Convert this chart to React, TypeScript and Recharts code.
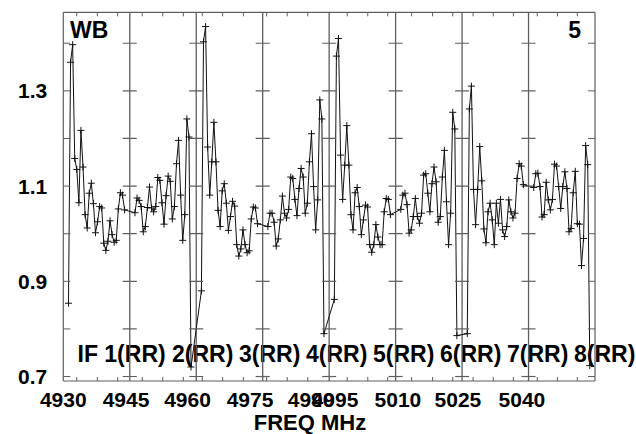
import { ComposedChart, Line, Scatter, XAxis, YAxis, ReferenceLine, Customized } from "recharts"

// channels kept per IF (edge channels are flagged)
const channels = [3, 4, 5, 6, 7, 8, 9, 10, 11, 12, 13, 14, 15, 16, 17, 18, 19, 20, 21, 22, 23, 24, 25, 26, 27, 28, 29, 30]

const if1 = [0.854, 1.36, 1.397, 1.158, 1.135, 1.065, 1.217, 1.14, 1.04, 1.012, 1.085, 1.106, 1.063, 1.002, 1.025, 1.057, 1.054, 0.98, 0.965, 0.984, 1.027, 0.998, 0.982, 0.986, 1.052, 1.086, 1.081, 1.05]
const if2 = [1.044, 1.075, 1.07, 1.057, 1.004, 1.015, 1.055, 1.098, 1.054, 1.046, 1.057, 1.118, 1.112, 1.065, 1.02, 1.08, 1.121, 1.11, 1.031, 1.057, 1.147, 1.196, 1.081, 0.986, 1.04, 1.241, 1.203, 0.72]
const if3 = [0.88, 1.403, 1.435, 1.182, 1.081, 1.151, 1.234, 1.151, 1.049, 1.015, 1.09, 1.105, 1.064, 1.007, 1.036, 1.068, 1.058, 0.977, 0.953, 0.968, 1.008, 0.977, 0.96, 0.964, 1.031, 1.056, 1.054, 1.021]
const if4 = [1.015, 1.043, 1.043, 1.024, 0.974, 0.989, 1.029, 1.079, 1.043, 1.033, 1.051, 1.119, 1.116, 1.072, 1.038, 1.095, 1.137, 1.119, 1.043, 1.064, 1.151, 1.21, 1.099, 1.008, 1.071, 1.281, 1.241, 0.79]
const if5 = [0.862, 1.373, 1.41, 1.165, 1.072, 1.144, 1.227, 1.144, 1.04, 1.008, 1.086, 1.097, 1.057, 0.998, 1.029, 1.06, 1.056, 0.977, 0.961, 0.977, 1.019, 0.993, 0.977, 0.977, 1.046, 1.074, 1.072, 1.04]
const if6 = [1.051, 1.081, 1.085, 1.061, 1.001, 1.008, 1.036, 1.074, 1.036, 1.022, 1.043, 1.123, 1.126, 1.085, 1.046, 1.105, 1.14, 1.109, 1.024, 1.036, 1.119, 1.175, 1.067, 0.977, 1.043, 1.255, 1.22, 0.786]
const if7 = [0.79, 1.262, 1.31, 1.093, 1.019, 1.093, 1.183, 1.111, 1.01, 0.981, 1.046, 1.064, 1.029, 0.977, 1.064, 1.022, 1.072, 1.008, 0.994, 1.015, 1.071, 1.046, 1.033, 1.043, 1.116, 1.147, 1.142, 1.103]
const if8 = [1.097, 1.126, 1.127, 1.099, 1.035, 1.04, 1.108, 1.071, 1.05, 1.072, 1.146, 1.142, 1.099, 1.053, 1.099, 1.13, 1.095, 1.004, 1.011, 1.086, 1.131, 1.021, 1.02, 0.933, 0.99, 1.185, 1.145, 0.723]

const spectra = [if1, if2, if3, if4, if5, if6, if7, if8]
const ifNames = ["IF 1(RR)", "2(RR)", "3(RR)", "4(RR)", "5(RR)", "6(RR)", "7(RR)", "8(RR)"]
const CH_PER_IF = 32

// frequency labels and where they sit, in channel units along the x axis
const freqLabels = ["4930", "4945", "4960", "4975", "4990", "4995", "5010", "5025", "5040"]
const freqLabelAt = [0, 30.2, 59.8, 89.9, 119.3, 130.8, 161.1, 190, 220.8]
const freqMinorAt = [6.45, 16.4, 26.2, 38, 47.9, 57.8, 66.9, 76.7, 86.7, 97.9, 107.8, 117.7, 136.7, 146.6, 156.2, 167.7, 177.8, 187.5, 197.3, 207, 216.7, 228.2, 237.9, 247.5]

const yTicks = [0.7, 0.8, 0.9, 1.0, 1.1, 1.2, 1.3, 1.4]
const yLabels = [0.7, 0.9, 1.1, 1.3]
const ifEdges = [32, 64, 96, 128, 160, 192, 224]

const data = spectra.flatMap((vals, i) =>
  vals.map((v, j) => ({ x: i * CH_PER_IF + channels[j] - 0.5, y: v }))
)
const edgeTicks = ifEdges.flatMap((x) => yTicks.map((y) => ({ x, y })))

const FONT = "'Liberation Sans', Arial, Helvetica, sans-serif"
const FRAME = "#5e5e5e"
const X_DOMAIN = [0, CH_PER_IF * 8]
const Y_DOMAIN = [0.6906, 1.465]

const Cross = (p: any) => {
  const { cx, cy, index } = p
  if (cx == null || cy == null) return <g key={`c${index}`} />
  return (
    <path
      key={`c${index}`}
      d={`M${cx - 3.5},${cy}h7M${cx},${cy - 3.5}v7`}
      stroke="#111"
      strokeWidth={1}
      fill="none"
    />
  )
}

const EdgeTick = (p: any) => (
  <line x1={p.cx - 7} x2={p.cx + 7} y1={p.cy} y2={p.cy} stroke={FRAME} strokeWidth={1.2} />
)

const Overlay = () => (
  <g fontFamily={FONT} fontWeight={700} fill="#000">
    <text x={70} y={38} fontSize={23}>WB</text>
    <text x={581} y={38} fontSize={23} textAnchor="end">5</text>
    <text x={77.5} y={362} fontSize={23}>{ifNames[0]}</text>
    {ifNames.slice(1).map((n, i) => (
      <text key={n} x={105 + 67 * (i + 1)} y={362} fontSize={23}>{n}</text>
    ))}
    <text x={310} y={430} fontSize={22} textAnchor="middle">FREQ MHz</text>
  </g>
)

export default function App() {
  const tickStyle = { fill: "#000", fontSize: 21, fontWeight: 700, fontFamily: FONT }
  return (
    <div style={{ position: "absolute", left: 0, top: 0, background: "#fff" }}>
      <ComposedChart width={636} height={434} margin={{ top: 12.3, right: 41, bottom: 0, left: 0 }}>
        <XAxis
          xAxisId="f"
          dataKey="x"
          type="number"
          domain={X_DOMAIN}
          allowDataOverflow
          ticks={freqLabelAt}
          interval={0}
          tickFormatter={(v) => freqLabels[freqLabelAt.indexOf(v)]}
          tickLine={false}
          tickSize={0}
          tickMargin={11}
          height={53}
          axisLine={{ stroke: FRAME, strokeWidth: 1.2 }}
          tick={tickStyle}
        />
        <XAxis
          xAxisId="mb"
          dataKey="x"
          type="number"
          domain={X_DOMAIN}
          allowDataOverflow
          mirror
          ticks={freqMinorAt}
          interval={0}
          tickFormatter={() => ""}
          tickSize={4}
          tickLine={{ stroke: FRAME }}
          axisLine={false}
        />
        <XAxis
          xAxisId="mt"
          orientation="top"
          dataKey="x"
          type="number"
          domain={X_DOMAIN}
          allowDataOverflow
          mirror
          ticks={freqMinorAt}
          interval={0}
          tickFormatter={() => ""}
          tickSize={4}
          tickLine={{ stroke: FRAME }}
          axisLine={{ stroke: FRAME, strokeWidth: 1.2 }}
        />
        <YAxis
          yAxisId="lbl"
          dataKey="y"
          type="number"
          domain={Y_DOMAIN}
          allowDataOverflow
          ticks={yLabels}
          interval={0}
          width={63.3}
          tickLine={false}
          tickSize={0}
          tickMargin={16}
          tickFormatter={(v) => v.toFixed(1)}
          axisLine={{ stroke: FRAME, strokeWidth: 1.2 }}
          tick={tickStyle}
        />
        <YAxis
          yAxisId="ml"
          dataKey="y"
          type="number"
          domain={Y_DOMAIN}
          allowDataOverflow
          mirror
          ticks={yTicks}
          interval={0}
          tickFormatter={() => ""}
          tickSize={7}
          tickLine={{ stroke: FRAME }}
          axisLine={false}
        />
        <YAxis
          yAxisId="mr"
          orientation="right"
          dataKey="y"
          type="number"
          domain={Y_DOMAIN}
          allowDataOverflow
          mirror
          ticks={yTicks}
          interval={0}
          tickFormatter={() => ""}
          tickSize={7}
          tickLine={{ stroke: FRAME }}
          axisLine={{ stroke: FRAME, strokeWidth: 1.2 }}
        />
        {ifEdges.map((e) => (
          <ReferenceLine key={e} xAxisId="f" yAxisId="lbl" x={e} stroke={FRAME} strokeWidth={1.3} />
        ))}
        <Scatter
          xAxisId="f"
          yAxisId="lbl"
          data={edgeTicks}
          dataKey="y"
          shape={EdgeTick}
          isAnimationActive={false}
        />
        <Customized component={<Overlay />} />
        <Line
          xAxisId="f"
          yAxisId="lbl"
          data={data}
          dataKey="y"
          type="linear"
          stroke="#111"
          strokeWidth={1}
          dot={Cross}
          activeDot={false}
          isAnimationActive={false}
        />
      </ComposedChart>
    </div>
  )
}
